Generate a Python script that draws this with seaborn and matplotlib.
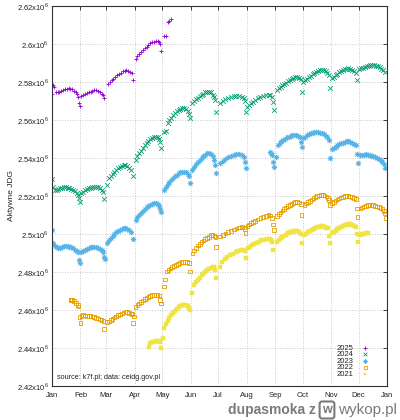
import matplotlib
matplotlib.use("Agg")
import matplotlib.pyplot as plt
import seaborn as sns

# day of year (0 = 1 Jan) and number of active JDG in thousands
d2025 = [0, 1, 2, 4, 6, 8, 10, 12, 14, 16, 18, 20, 22, 24, 26, 27, 28, 29, 30,
         32, 34, 36, 38, 40, 42, 44, 46, 48, 50, 52, 54, 56, 57,
         61, 63, 65, 67, 69, 71, 73, 75, 77, 79, 81, 83, 85, 87, 88,
         91, 93, 95, 97, 99, 101, 103, 105, 107, 109, 111, 113, 115, 117, 118, 119,
         122, 124, 126, 128, 130]
v2025 = [2573.9, 2578.2, 2577.2, 2575.0, 2574.9, 2575.0, 2575.3, 2575.7, 2576.1, 2576.5, 2576.7, 2576.5, 2576.1, 2575.5, 2574.7, 2573.8, 2572.2, 2569.0, 2567.6,
         2572.6, 2573.0, 2573.5, 2574.0, 2574.5, 2575.0, 2575.4, 2575.7, 2575.7, 2575.3, 2574.7, 2573.9, 2573.0, 2571.7,
         2579.2, 2580.0, 2580.9, 2581.8, 2582.7, 2583.5, 2584.3, 2585.0, 2585.6, 2586.0, 2586.2, 2586.0, 2585.5, 2584.8, 2581.0,
         2592.0, 2593.5, 2594.6, 2595.7, 2596.7, 2597.7, 2598.6, 2599.5, 2600.3, 2600.9, 2601.3, 2601.6, 2601.5, 2600.9, 2599.8, 2596.2,
         2604.2, 2604.4, 2611.6, 2612.3, 2613.0]

d2024 = [0, 1, 3, 5, 7, 9, 11, 13, 15, 17, 19, 21, 23, 25, 27, 28, 29, 30,
         32, 34, 36, 38, 40, 42, 44, 46, 48, 50, 52, 54, 56, 57,
         60, 62, 64, 66, 68, 70, 72, 74, 76, 78, 80, 82, 84, 86, 88,
         91, 93, 95, 97, 99, 101, 103, 105, 107, 109, 111, 113, 115, 117, 118, 119,
         122, 124, 126, 128, 130, 132, 134, 136, 138, 140, 142, 144, 146, 148, 149, 150,
         153, 155, 157, 159, 161, 163, 165, 167, 169, 171, 173, 175, 177, 178, 179,
         183, 186, 189, 192, 195, 198, 201, 204, 207, 209, 210, 211,
         213, 215, 217, 219, 221, 224, 227, 230, 233, 236, 238, 240, 241, 242,
         245, 247, 249, 251, 253, 255, 257, 259, 261, 263, 265, 267, 269, 271, 272,
         274, 276, 278, 280, 282, 284, 286, 288, 290, 292, 294, 296, 298, 300, 302, 303,
         305, 307, 309, 311, 313, 315, 317, 319, 321, 323, 325, 327, 329, 331, 332,
         335, 337, 339, 341, 343, 345, 347, 349, 351, 353, 355, 357, 359, 361, 363]
v2024 = [2528.8, 2524.5, 2523.3, 2523.4, 2523.7, 2524.0, 2524.3, 2524.5, 2524.6, 2524.4, 2524.1, 2523.7, 2523.1, 2522.5, 2521.7, 2520.5, 2519.0, 2516.6,
         2521.6, 2522.2, 2522.9, 2523.5, 2524.0, 2524.4, 2524.8, 2524.9, 2524.8, 2524.5, 2524.0, 2523.2, 2522.3, 2518.4,
         2525.8, 2529.5, 2530.7, 2531.8, 2532.8, 2533.7, 2534.6, 2535.3, 2535.9, 2536.3, 2536.3, 2535.8, 2534.9, 2533.7, 2530.5,
         2539.0, 2540.8, 2542.4, 2543.9, 2545.3, 2546.6, 2547.8, 2548.9, 2549.9, 2550.6, 2551.1, 2551.3, 2550.9, 2550.0, 2548.6, 2545.3,
         2553.8, 2554.0, 2558.6, 2559.9, 2561.2, 2562.4, 2563.5, 2564.5, 2565.3, 2565.9, 2566.2, 2566.2, 2565.6, 2564.6, 2563.4, 2560.9,
         2568.8, 2569.8, 2570.8, 2571.7, 2572.6, 2573.3, 2573.9, 2574.5, 2574.9, 2574.9, 2574.5, 2573.4, 2572.0, 2570.5, 2564.4,
         2569.1, 2570.0, 2570.8, 2571.5, 2572.1, 2572.5, 2572.7, 2572.7, 2572.2, 2571.4, 2569.8, 2564.4,
         2567.0, 2568.0, 2568.9, 2569.7, 2570.5, 2571.4, 2572.2, 2572.8, 2573.2, 2573.3, 2573.0, 2572.2, 2569.6, 2565.3,
         2575.8, 2576.6, 2577.4, 2578.2, 2579.0, 2579.7, 2580.4, 2581.0, 2581.6, 2582.2, 2582.6, 2582.7, 2582.3, 2581.5, 2574.9,
         2580.2, 2581.0, 2581.8, 2582.6, 2583.4, 2584.1, 2584.8, 2585.4, 2585.9, 2586.3, 2586.4, 2586.2, 2585.6, 2584.8, 2583.6, 2576.7,
         2581.9, 2582.8, 2583.6, 2584.4, 2585.1, 2585.7, 2586.2, 2586.7, 2587.0, 2587.2, 2587.0, 2586.4, 2585.6, 2584.6, 2581.1,
         2586.8, 2587.2, 2587.6, 2588.0, 2588.3, 2588.6, 2588.8, 2588.9, 2588.9, 2588.6, 2588.2, 2587.7, 2587.1, 2586.4, 2585.4]

d2023 = [0, 1, 3, 5, 7, 9, 11, 13, 15, 17, 19, 21, 23, 25, 27, 28, 29, 30,
         32, 34, 36, 38, 40, 42, 44, 46, 48, 50, 52, 54, 56, 57, 58,
         60, 62, 64, 66, 68, 70, 72, 74, 76, 78, 80, 82, 84, 86, 88,
         91, 93, 95, 97, 99, 101, 103, 105, 107, 109, 111, 113, 115, 117, 118, 119,
         122, 124, 126, 128, 130, 132, 134, 136, 138, 140, 142, 144, 146, 148, 149, 150,
         153, 155, 157, 159, 161, 163, 165, 167, 169, 171, 173, 175, 177, 178, 179,
         183, 186, 189, 192, 195, 198, 201, 204, 207, 209, 210, 211,
         238, 239, 240, 241, 242,
         244, 246, 248, 250, 252, 254, 256, 258, 260, 262, 264, 266, 268, 270, 271, 272,
         274, 276, 278, 280, 282, 284, 286, 288, 290, 292, 294, 296, 298, 300, 302, 303,
         305, 307, 309, 311, 313, 315, 317, 319, 321, 323, 325, 327, 329, 331, 332, 333,
         336, 338, 340, 342, 344, 346, 348, 350, 352, 354, 356, 358, 360, 362, 363]
v2023 = [2502.1, 2495.1, 2493.8, 2493.0, 2492.6, 2492.8, 2493.2, 2493.6, 2493.8, 2493.7, 2493.4, 2493.0, 2492.4, 2491.8, 2491.2, 2490.4, 2486.3, 2484.9,
         2490.7, 2491.2, 2491.8, 2492.3, 2492.8, 2493.1, 2493.3, 2493.3, 2493.1, 2492.7, 2492.1, 2491.6, 2490.6, 2488.1, 2486.7,
         2495.1, 2496.6, 2497.8, 2498.9, 2499.9, 2500.8, 2501.6, 2502.2, 2502.7, 2503.0, 2502.9, 2502.5, 2501.9, 2501.3, 2497.2,
         2507.4, 2508.8, 2510.0, 2511.1, 2512.1, 2513.1, 2514.0, 2514.8, 2515.5, 2516.0, 2516.2, 2516.1, 2515.6, 2515.0, 2513.2, 2511.7,
         2523.2, 2524.8, 2526.2, 2527.5, 2528.6, 2529.6, 2530.5, 2531.3, 2531.9, 2532.4, 2532.8, 2532.8, 2532.4, 2531.4, 2530.5, 2526.7,
         2533.7, 2535.2, 2536.6, 2537.9, 2539.0, 2540.0, 2541.0, 2541.8, 2542.4, 2542.5, 2542.0, 2541.0, 2539.2, 2536.3, 2532.3,
         2537.2, 2538.5, 2539.6, 2540.5, 2541.2, 2541.7, 2541.9, 2541.9, 2541.5, 2540.6, 2538.1, 2534.6,
         2543.3, 2542.5, 2541.6, 2538.1, 2535.4,
         2540.7, 2546.8, 2547.8, 2548.7, 2549.5, 2550.2, 2550.8, 2551.3, 2551.7, 2552.0, 2552.1, 2552.0, 2551.6, 2550.8, 2548.6, 2546.0,
         2550.4, 2551.2, 2551.9, 2552.5, 2553.0, 2553.4, 2553.7, 2553.8, 2553.7, 2553.4, 2553.0, 2552.4, 2551.8, 2551.2, 2549.6, 2539.8,
         2544.6, 2545.3, 2546.0, 2546.6, 2547.2, 2547.7, 2548.1, 2548.5, 2548.7, 2548.8, 2548.6, 2548.1, 2547.4, 2546.8, 2542.1, 2537.2,
         2541.6, 2541.7, 2541.8, 2541.9, 2541.8, 2541.6, 2541.3, 2541.0, 2540.6, 2540.1, 2539.5, 2538.8, 2538.0, 2537.0, 2534.6]

d2022 = [20, 21, 22, 24, 26, 28, 29, 30,
         31, 32, 34, 36, 38, 40, 42, 44, 46, 48, 50, 52, 54, 56, 57,
         60, 62, 64, 66, 68, 70, 72, 74, 76, 78, 80, 82, 84, 86, 87, 88, 89,
         91, 93, 95, 97, 99, 101, 103, 105, 107, 109, 111, 113, 115, 117, 118, 119,
         122, 123, 125, 127, 129, 131, 133, 135, 137, 139, 141, 143, 145, 147, 149, 150,
         153, 155, 157, 159, 161, 163, 165, 167, 169, 171, 173, 175, 177, 178, 179,
         183, 186, 189, 192, 195, 198, 201, 204, 207, 209, 210, 211,
         213, 215, 217, 219, 221, 224, 227, 230, 233, 236, 238, 240, 241, 242,
         245, 247, 249, 251, 253, 255, 257, 259, 261, 263, 265, 267, 269, 271, 272,
         275, 277, 279, 281, 283, 285, 287, 289, 291, 293, 295, 297, 299, 301, 302, 303,
         305, 307, 309, 311, 313, 315, 317, 319, 321, 323, 325, 327, 329, 331, 332, 333,
         336, 338, 340, 342, 344, 346, 348, 350, 352, 354, 356, 358, 360, 362, 363, 364]
v2022 = [2465.6, 2465.4, 2465.2, 2464.6, 2463.6, 2462.6, 2461.8, 2456.2,
         2453.0, 2457.0, 2457.2, 2457.1, 2457.0, 2456.9, 2456.7, 2456.5, 2456.2, 2455.9, 2455.5, 2455.0, 2454.6, 2454.2, 2450.0,
         2453.8, 2454.0, 2454.6, 2455.3, 2456.0, 2456.6, 2457.2, 2457.7, 2458.2, 2458.6, 2458.9, 2458.8, 2458.5, 2458.2, 2457.8, 2453.0, 2456.5,
         2461.7, 2462.6, 2463.4, 2464.2, 2465.0, 2465.7, 2466.3, 2466.9, 2467.4, 2467.8, 2468.0, 2468.0, 2467.9, 2467.7, 2465.3, 2463.5,
         2472.3, 2476.1, 2480.2, 2481.2, 2481.9, 2482.6, 2483.2, 2483.8, 2484.3, 2484.8, 2485.2, 2485.4, 2485.4, 2485.1, 2484.6, 2480.2,
         2489.8, 2491.4, 2492.7, 2493.9, 2494.9, 2495.8, 2496.6, 2497.3, 2497.9, 2498.4, 2499.3, 2499.5, 2499.0, 2498.3, 2493.3,
         2498.6, 2499.4, 2500.2, 2500.9, 2501.6, 2502.3, 2502.9, 2503.4, 2503.8, 2503.5, 2502.8, 2500.4,
         2504.2, 2505.0, 2505.7, 2506.3, 2506.9, 2507.7, 2508.4, 2509.1, 2509.6, 2510.0, 2509.8, 2508.3, 2505.0, 2502.1,
         2509.4, 2510.4, 2511.4, 2512.3, 2513.2, 2514.0, 2514.7, 2515.3, 2515.9, 2516.4, 2516.7, 2516.8, 2516.6, 2515.8, 2510.0,
         2515.3, 2516.1, 2516.8, 2517.5, 2518.2, 2518.8, 2519.4, 2519.9, 2520.3, 2520.5, 2520.5, 2520.2, 2519.7, 2519.1, 2518.0, 2515.3,
         2516.2, 2516.9, 2517.6, 2518.2, 2518.7, 2519.2, 2519.6, 2519.9, 2520.0, 2520.0, 2519.8, 2519.4, 2519.0, 2518.4, 2513.5, 2508.8,
         2513.5, 2514.0, 2514.5, 2514.9, 2515.2, 2515.3, 2515.3, 2515.1, 2514.8, 2514.5, 2514.1, 2513.6, 2513.0, 2512.2, 2510.8, 2508.3]

d2021 = [106, 107, 109, 111, 113, 115, 117, 118, 119,
         121, 122, 124, 126, 128, 130, 132, 134, 136, 138, 140, 142, 144, 146, 148, 149, 150,
         153, 155, 157, 159, 161, 163, 165, 167, 169, 171, 173, 175, 177, 178, 179,
         183, 185, 188, 191, 194, 197, 200, 203, 206, 208, 210, 211,
         214, 216, 218, 220, 222, 225, 228, 231, 234, 237, 239, 240, 241,
         245, 247, 249, 251, 253, 255, 257, 259, 261, 263, 265, 267, 269, 271, 272,
         275, 277, 279, 281, 283, 285, 287, 289, 291, 293, 295, 297, 299, 301, 302, 303,
         305, 307, 309, 311, 313, 315, 317, 319, 321, 323, 325, 327, 329, 331, 332, 333,
         336, 338, 340, 342, 344]
v2021 = [2440.7, 2442.5, 2443.0, 2443.3, 2443.5, 2443.7, 2443.6, 2443.0, 2439.8,
         2445.1, 2450.5, 2452.5, 2454.3, 2455.9, 2457.3, 2458.5, 2459.6, 2460.6, 2461.4, 2462.0, 2462.4, 2462.6, 2462.4, 2462.0, 2461.2, 2460.0,
         2468.8, 2473.2, 2474.6, 2475.9, 2477.1, 2478.2, 2479.2, 2480.1, 2480.9, 2481.6, 2482.2, 2482.6, 2482.4, 2481.0, 2476.7,
         2482.8, 2485.4, 2486.6, 2487.7, 2488.7, 2489.6, 2490.3, 2490.9, 2491.4, 2491.7, 2491.0, 2487.2,
         2492.5, 2493.3, 2494.0, 2494.7, 2495.3, 2496.0, 2496.6, 2497.1, 2497.4, 2497.3, 2496.7, 2495.8, 2491.6,
         2496.0, 2496.9, 2497.7, 2498.4, 2499.1, 2499.7, 2500.3, 2500.8, 2501.2, 2501.5, 2501.6, 2501.4, 2501.0, 2500.0, 2495.4,
         2499.5, 2500.2, 2500.9, 2501.5, 2502.1, 2502.6, 2503.1, 2503.5, 2503.9, 2504.2, 2504.2, 2503.9, 2503.4, 2503.0, 2499.0, 2495.4,
         2500.4, 2501.1, 2501.8, 2502.4, 2503.0, 2503.6, 2504.1, 2504.6, 2505.0, 2505.3, 2505.3, 2505.0, 2504.4, 2503.8, 2500.0, 2496.0,
         2499.5, 2499.8, 2500.2, 2500.4, 2500.5]

month_days = [0, 31, 59, 90, 120, 151, 181, 212, 243, 273, 304, 334, 365]
month_labels = ["Jan", "Feb", "Mar", "Apr", "May", "Jun", "Jul", "Aug",
                "Sep", "Oct", "Nov", "Dec", "Jan"]
y_ticks = [2420, 2440, 2460, 2480, 2500, 2520, 2540, 2560, 2580, 2600, 2620]

series = [
    ("2025", d2025, v2025, "#9400d3", "+", True),
    ("2024", d2024, v2024, "#009e73", "x", True),
    ("2023", d2023, v2023, "#56b4e9", (8, 2, 0), True),
    ("2022", d2022, v2022, "#e69f00", "s", False),
    ("2021", d2021, v2021, "#f0e442", "s", True),
]

sns.set_style("white")
plt.rcParams["font.family"] = ["Liberation Sans", "DejaVu Sans"]
plt.rcParams["mathtext.fontset"] = "custom"
plt.rcParams["mathtext.rm"] = "Liberation Sans"

fig = plt.figure(figsize=(4.0, 4.2), dpi=100)
ax = fig.add_axes([52 / 400, 1 - 386 / 420, 335 / 400, 380 / 420])

for label, days, vals, col, mk, filled in series:
    if mk == "s" and not filled:
        sns.scatterplot(x=days, y=vals, marker="s", s=7, facecolor="none",
                        edgecolor=col, color=col, linewidth=0.6, label=label, ax=ax)
    elif mk == "s":
        sns.scatterplot(x=days, y=vals, marker="s", s=7, color=col,
                        edgecolor=col, linewidth=0.3, label=label, ax=ax)
    else:
        sns.scatterplot(x=days, y=vals, marker=mk, s=11, color=col,
                        linewidth=0.6, label=label, ax=ax)

ax.set_xlim(0, 365)
ax.set_ylim(2420, 2620)
ax.set_xticks(month_days)
ax.set_xticklabels(month_labels)
ax.set_yticks(y_ticks)
ax.set_yticklabels([f"{v / 1000:g}x10$^{{6}}$" for v in y_ticks])
ax.tick_params(direction="in", length=3, width=0.6, top=True, right=True,
               labelsize=5.5, pad=2.5, colors="#222222")
ax.tick_params(axis="x", pad=4)
ax.grid(True, color="#b8b8b8", linestyle=(0, (1, 2)), linewidth=0.6)
for sp in ax.spines.values():
    sp.set_color("#333333")
    sp.set_linewidth(0.8)
ax.set_xlabel("")
ax.set_ylabel("Aktywne JDG", fontsize=6, labelpad=1)

ax.text(0.015, 0.012, "source: k7f.pl; data: ceidg.gov.pl", transform=ax.transAxes,
        fontsize=5.2, ha="left", va="bottom", color="#222222")

leg = ax.legend(loc="lower right", bbox_to_anchor=(0.96, 0.01), markerfirst=False,
                frameon=False, fontsize=5.5, labelspacing=-0.12, handletextpad=1.0,
                handlelength=1.0, borderpad=0.1, markerscale=0.8)
for t in leg.get_texts():
    t.set_color("#222222")

# site watermark under the chart
fig.text(228 / 400, 1 - 410 / 420, "dupasmoka z", fontsize=10, color="#7a7a7a",
         fontweight="bold", ha="left", va="center")
fig.text(327 / 400, 1 - 410 / 420, "w", fontsize=9, color="#7a7a7a", fontweight="bold",
         ha="center", va="center",
         bbox=dict(boxstyle="round,pad=0.2", fc="none", ec="#7a7a7a", lw=1.5))
fig.text(338 / 400, 1 - 410 / 420, "wykop.pl", fontsize=11, color="#7a7a7a",
         ha="left", va="center")

fig.savefig("out.png", dpi=100)
